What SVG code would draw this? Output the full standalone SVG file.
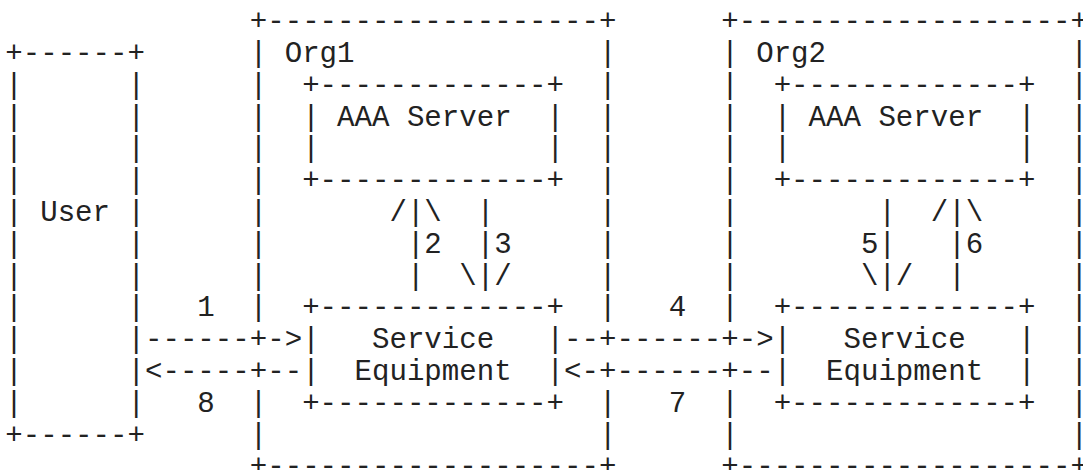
<svg xmlns="http://www.w3.org/2000/svg" width="1083" height="470" viewBox="0 0 1083 470">
<style>
.t{font-family:"Liberation Mono","Courier New",monospace;font-size:29.1px;fill:#222;white-space:pre}
</style>
<rect width="1083" height="470" fill="#fff"/>
<g id="user">
<text class="t" x="5.27" y="62.0">+------+</text>
<text class="t" x="5.27 127.51" y="93.8">||</text>
<text class="t" x="5.27 127.51" y="125.6">||</text>
<text class="t" x="5.27 127.51" y="157.4">||</text>
<text class="t" x="5.27 127.51" y="189.2">||</text>
<text class="t" x="5.27 127.51" y="221.0">||</text>
<text class="t" x="40.2" y="221.0">User</text>
<text class="t" x="5.27 127.51" y="252.8">||</text>
<text class="t" x="5.27 127.51" y="284.6">||</text>
<text class="t" x="5.27 127.51" y="316.4">||</text>
<text class="t" x="5.27 127.51" y="348.2">||</text>
<text class="t" x="5.27 127.51" y="380.0">||</text>
<text class="t" x="5.27 127.51" y="411.8">||</text>
<text class="t" x="5.27" y="443.6">+------+</text>
</g>
<g id="org1">
<text class="t" x="249.75" y="30.2">+-------------------+</text>
<text class="t" x="249.75 599.01" y="62.0">||</text>
<text class="t" x="284.68" y="62.0">Org1</text>
<text class="t" x="249.75 599.01" y="93.8">||</text>
<text class="t" x="249.75 599.01" y="125.6">||</text>
<text class="t" x="249.75 599.01" y="157.4">||</text>
<text class="t" x="249.75 599.01" y="189.2">||</text>
<text class="t" x="249.75 599.01" y="221.0">||</text>
<text class="t" x="249.75 599.01" y="252.8">||</text>
<text class="t" x="249.75 599.01" y="284.6">||</text>
<text class="t" x="249.75 599.01" y="316.4">||</text>
<text class="t" x="249.75 599.01" y="411.8">||</text>
<text class="t" x="249.75 599.01" y="443.6">||</text>
<text class="t" x="249.75" y="475.4">+-------------------+</text>
</g>
<g id="org1-aaa">
<text class="t" x="302.14" y="93.8">+-------------+</text>
<text class="t" x="302.14 546.62" y="125.6">||</text>
<text class="t" x="337.07" y="125.6">AAA Server</text>
<text class="t" x="302.14 546.62" y="157.4">||</text>
<text class="t" x="302.14" y="189.2">+-------------+</text>
</g>
<g id="org1-se">
<text class="t" x="302.14" y="316.4">+-------------+</text>
<text class="t" x="302.14 546.62" y="348.2">||</text>
<text class="t" x="371.99" y="348.2">Service</text>
<text class="t" x="302.14 546.62" y="380.0">||</text>
<text class="t" x="354.53" y="380.0">Equipment</text>
<text class="t" x="302.14" y="411.8">+-------------+</text>
</g>
<g id="org2">
<text class="t" x="721.25" y="30.2">+-------------------+</text>
<text class="t" x="721.25 1070.51" y="62.0">||</text>
<text class="t" x="756.18" y="62.0">Org2</text>
<text class="t" x="721.25 1070.51" y="93.8">||</text>
<text class="t" x="721.25 1070.51" y="125.6">||</text>
<text class="t" x="721.25 1070.51" y="157.4">||</text>
<text class="t" x="721.25 1070.51" y="189.2">||</text>
<text class="t" x="721.25 1070.51" y="221.0">||</text>
<text class="t" x="721.25 1070.51" y="252.8">||</text>
<text class="t" x="721.25 1070.51" y="284.6">||</text>
<text class="t" x="721.25 1070.51" y="316.4">||</text>
<text class="t" x="1070.51" y="348.2">|</text>
<text class="t" x="1070.51" y="380.0">|</text>
<text class="t" x="721.25 1070.51" y="411.8">||</text>
<text class="t" x="721.25 1070.51" y="443.6">||</text>
<text class="t" x="721.25" y="475.4">+-------------------+</text>
</g>
<g id="org2-aaa">
<text class="t" x="773.64" y="93.8">+-------------+</text>
<text class="t" x="773.64 1018.12" y="125.6">||</text>
<text class="t" x="808.57" y="125.6">AAA Server</text>
<text class="t" x="773.64 1018.12" y="157.4">||</text>
<text class="t" x="773.64" y="189.2">+-------------+</text>
</g>
<g id="org2-se">
<text class="t" x="773.64" y="316.4">+-------------+</text>
<text class="t" x="773.64 1018.12" y="348.2">||</text>
<text class="t" x="843.49" y="348.2">Service</text>
<text class="t" x="773.64 1018.12" y="380.0">||</text>
<text class="t" x="826.03" y="380.0">Equipment</text>
<text class="t" x="773.64" y="411.8">+-------------+</text>
</g>
<g id="connectors">
<text class="t" x="197.36" y="316.4">1</text>
<text class="t" x="144.97" y="348.2">------+-&gt;</text>
<text class="t" x="144.97" y="380.0">&lt;-----+--</text>
<text class="t" x="197.36" y="411.8">8</text>
<text class="t" x="668.86" y="316.4">4</text>
<text class="t" x="564.09" y="348.2">--+------+-&gt;</text>
<text class="t" x="564.09" y="380.0">&lt;-+------+--</text>
<text class="t" x="668.86" y="411.8">7</text>
<text class="t" x="389.46" y="221.0">/|\</text>
<text class="t" x="406.92" y="252.8">|2</text>
<text class="t" x="406.92" y="284.6">|</text>
<text class="t" x="476.77" y="221.0">|</text>
<text class="t" x="476.77" y="252.8">|3</text>
<text class="t" x="459.31" y="284.6">\|/</text>
<text class="t" x="878.42" y="221.0">|</text>
<text class="t" x="860.96" y="252.8">5|</text>
<text class="t" x="860.96" y="284.6">\|/</text>
<text class="t" x="930.81" y="221.0">/|\</text>
<text class="t" x="948.27" y="252.8">|6</text>
<text class="t" x="948.27" y="284.6">|</text>
</g>
</svg>
